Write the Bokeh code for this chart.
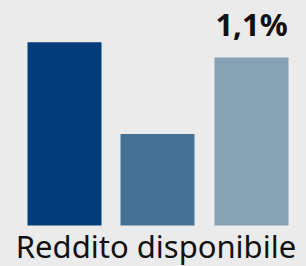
from bokeh.plotting import figure
from bokeh.models import ColumnDataSource, FactorRange, Range1d, LabelSet
from bokeh.transform import dodge
from bokeh.core.properties import value
from bokeh.embed import file_html
from bokeh.resources import INLINE

category = ["Reddito disponibile"]
series_names = ["a", "b", "c"]
values = [1.2, 0.6, 1.1]
value_labels = ["", "", "1,1%"]
colors = ["#003D7A", "#447196", "#86A0B4"]
offsets = [-0.2908, 0.0131, 0.3203]

BG = "#EBEBEB"

p = figure(width=306, height=266, x_range=FactorRange(*category, range_padding=0),
           y_range=Range1d(-0.2685, 1.4735), output_backend="svg", toolbar_location=None,
           min_border_left=0, min_border_right=0, min_border_top=0, min_border_bottom=0,
           background_fill_color=BG, border_fill_color=BG, outline_line_color=None)

for name, v, lab, c, off in zip(series_names, values, value_labels, colors, offsets):
    src = ColumnDataSource(dict(cat=category, val=[v], lab=[lab]))
    p.vbar(x=dodge("cat", off, range=p.x_range), top="val", bottom=0, width=0.2418, source=src,
           fill_color=c, line_color=None)
    if lab:
        p.add_layout(LabelSet(x=dodge("cat", off, range=p.x_range), y="val", text="lab",
                              source=src, text_align="center", text_baseline="alphabetic",
                              y_offset=22, text_font=value("Noto Sans"),
                              text_font_style=value("bold"),
                              text_font_size=value("31px"), text_color="#111111"))

cat_src = ColumnDataSource(dict(cat=category, y=[0], lab=category))
p.add_layout(LabelSet(x=dodge("cat", 0.0082, range=p.x_range), y="y", text="lab",
                      source=cat_src, text_align="center", text_baseline="alphabetic",
                      y_offset=-32, text_font=value("Noto Sans"),
                      text_font_size=value("31px"), text_color="#111111"))

p.xaxis.visible = False
p.yaxis.visible = False
p.xgrid.visible = False
p.ygrid.visible = False

html = file_html(p, INLINE)
html = html.replace("<head>", "<head><style>html,body{background:#EBEBEB;}</style>", 1)
open("out.html", "w").write(html)
